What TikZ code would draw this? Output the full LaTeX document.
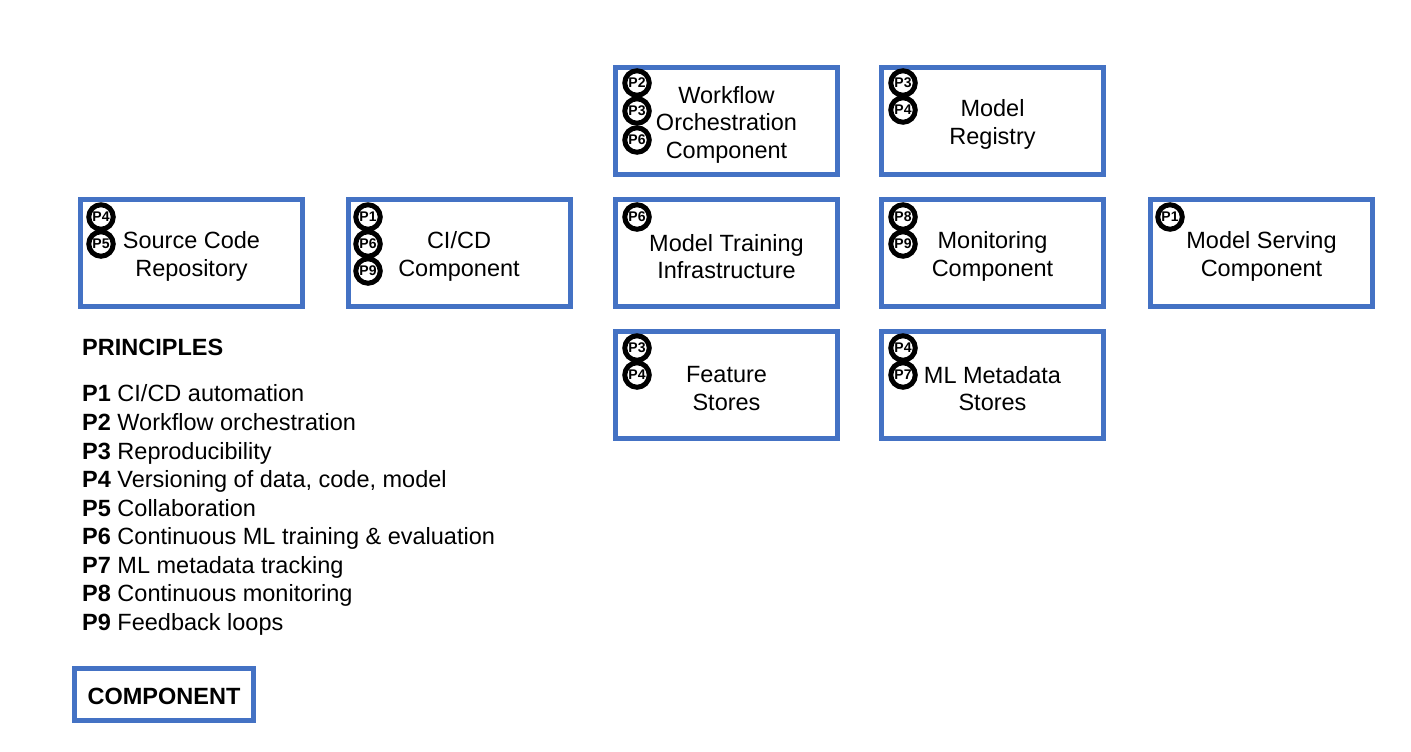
\documentclass[tikz,border=0pt]{standalone}
\usepackage{fontspec}
\setmainfont{Liberation Sans}
\definecolor{boxblue}{HTML}{4472C4}
\begin{document}
\begin{tikzpicture}[x=1pt,y=-1pt,
  comp/.style={draw=boxblue, line width=5pt, fill=white, minimum width=222pt, minimum height=107pt,
    inner sep=0pt},
  ctext/.style={inner sep=0pt, align=center, yshift=-3.5pt, font=\fontsize{23.5}{27.5}\selectfont},
  badge/.style={circle, draw=black, line width=5pt, fill=white, minimum size=24.5pt, inner sep=0pt,
    font=\bfseries\fontsize{14}{14}\selectfont},
  princ/.style={anchor=base west, inner sep=0pt, font=\fontsize{23.5}{27}\selectfont}]
\useasboundingbox (0,0) rectangle (1411,752);
% components
\node[comp] (src) at (191.5,253) {};
\node[comp] (cicd) at (459,253) {};
\node[comp] (train) at (726.5,253) {};
\node[comp] (mon) at (992.5,253) {};
\node[comp] (serve) at (1261.5,253) {};
\node[comp] (wf) at (726.5,121) {};
\node[comp] (reg) at (992.5,121) {};
\node[comp] (feat) at (726.5,385) {};
\node[comp] (meta) at (992.5,385) {};
\node[ctext] (src-t) at (src.center) {Source Code\\Repository};
\node[ctext] (cicd-t) at (cicd.center) {CI/CD\\Component};
\node[ctext] (train-t) at (train.center) {Model Training\\Infrastructure};
\node[ctext] (mon-t) at (mon.center) {Monitoring\\Component};
\node[ctext] (serve-t) at (serve.center) {Model Serving\\Component};
\node[ctext] (wf-t) at (wf.center) {Workflow\\Orchestration\\Component};
\node[ctext] (reg-t) at (reg.center) {Model\\Registry};
\node[ctext] (feat-t) at (feat.center) {Feature\\Stores};
\node[ctext] (meta-t) at (meta.center) {ML Metadata\\Stores};
% badges
\node[badge] (src-p4) at (101,217) {P4};
\node[badge] (src-p5) at (101,244) {P5};
\node[badge] (cicd-p1) at (368,217) {P1};
\node[badge] (cicd-p6) at (368,244) {P6};
\node[badge] (cicd-p9) at (368,271) {P9};
\node[badge] (train-p6) at (637,217) {P6};
\node[badge] (mon-p8) at (903,217) {P8};
\node[badge] (mon-p9) at (903,244) {P9};
\node[badge] (serve-p1) at (1170,217) {P1};
\node[badge] (wf-p2) at (637,83) {P2};
\node[badge] (wf-p3) at (637,111) {P3};
\node[badge] (wf-p6) at (637,140) {P6};
\node[badge] (reg-p3) at (903,83) {P3};
\node[badge] (reg-p4) at (903,110) {P4};
\node[badge] (feat-p3) at (637,348) {P3};
\node[badge] (feat-p4) at (637,375) {P4};
\node[badge] (meta-p4) at (903,348) {P4};
\node[badge] (meta-p7) at (903,375) {P7};
% principles
\node[princ] (ptitle) at (82,355.5) {\bfseries PRINCIPLES};
\node[princ] (p1) at (82,401.5) {\bfseries P1\mdseries\ CI/CD automation};
\node[princ] (p2) at (82,430.5) {\bfseries P2\mdseries\ Workflow orchestration};
\node[princ] (p3) at (82,459) {\bfseries P3\mdseries\ Reproducibility};
\node[princ] (p4) at (82,487.5) {\bfseries P4\mdseries\ Versioning of data, code, model};
\node[princ] (p5) at (82,516) {\bfseries P5\mdseries\ Collaboration};
\node[princ] (p6) at (82,544.5) {\bfseries P6\mdseries\ Continuous ML training \& evaluation};
\node[princ] (p7) at (82,573) {\bfseries P7\mdseries\ ML metadata tracking};
\node[princ] (p8) at (82,601.5) {\bfseries P8\mdseries\ Continuous monitoring};
\node[princ] (p9) at (82,630.5) {\bfseries P9\mdseries\ Feedback loops};
% legend
\node[comp, minimum width=179pt, minimum height=52pt] (legend) at (164,694.5) {};
\node[ctext, yshift=1.5pt, font=\bfseries\fontsize{23.5}{27}\selectfont] (legend-t) at (legend.center) {COMPONENT};
\end{tikzpicture}
\end{document}
